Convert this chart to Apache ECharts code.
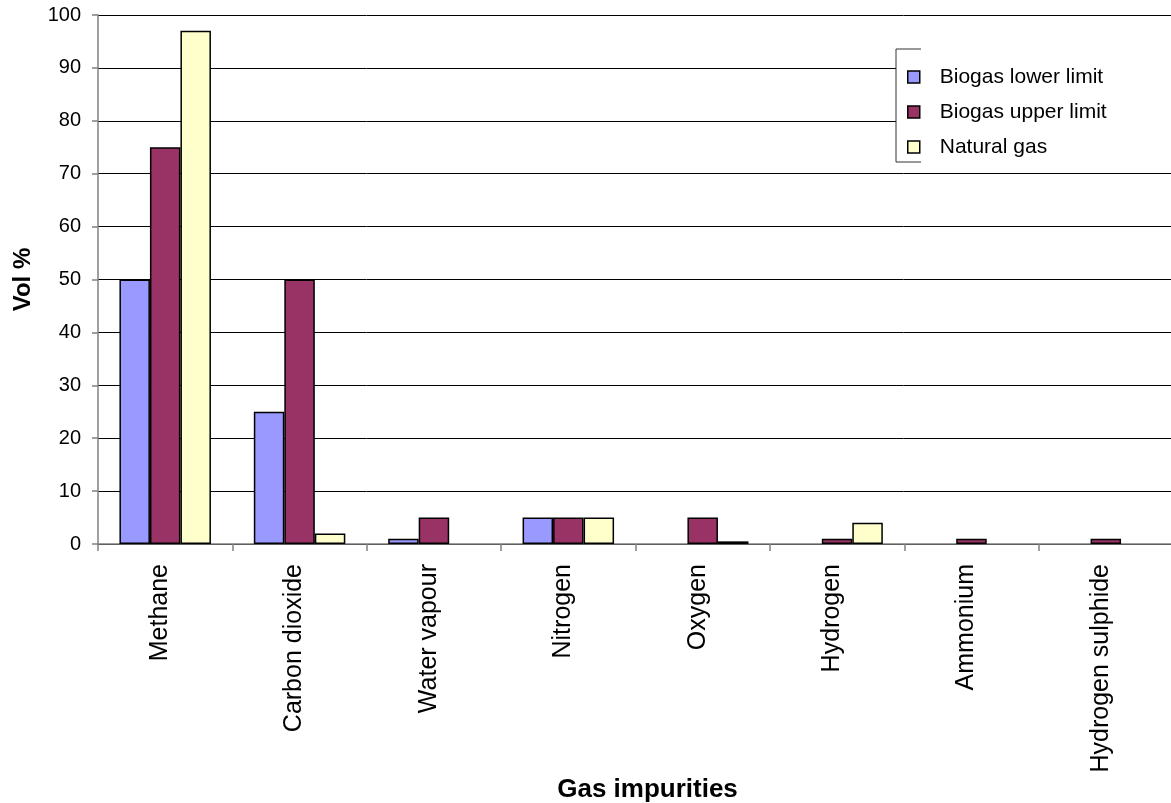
<!DOCTYPE html>
<html>
<head>
<meta charset="utf-8">
<script src="https://cdn.jsdelivr.net/npm/echarts@6/dist/echarts.min.js"></script>
<style>
  html, body { margin: 0; padding: 0; background: #fff; }
  #chart { width: 1171px; height: 803px; }
</style>
</head>
<body>
<div id="chart"></div>
<script>
const categories = ['Methane', 'Carbon dioxide', 'Water vapour', 'Nitrogen', 'Oxygen', 'Hydrogen', 'Ammonium', 'Hydrogen sulphide']
const biogasLower = [50, 25, 1, 5, 0, 0, 0, 0]
const biogasUpper = [75, 50, 5, 5, 5, 1, 1, 1]
const naturalGas = [97, 2, 0, 5, 0.5, 4, 0, 0]

const font = 'Liberation Sans, Arial, sans-serif'

const chart = echarts.init(document.getElementById('chart'))

// zero values are not drawn in the original, so leave them empty
function bar(name, data, color) {
  return {
    name,
    type: 'bar',
    data: data.map((v) => (v === 0 ? null : v)),
    barWidth: 30.5,
    barGap: '0%',
    itemStyle: { color, borderColor: '#000', borderWidth: 1.5 },
  }
}

chart.setOption({
  animation: false,
  textStyle: { fontFamily: font },
  grid: { left: 98, top: 15, width: 1075, bottom: 259, outerBoundsMode: 'none', containLabel: false },
  legend: {
    orient: 'vertical',
    left: 902,
    top: 59,
    z: 6,
    itemWidth: 12,
    itemHeight: 12,
    itemGap: 9,
    icon: 'rect',
    itemStyle: { borderColor: '#000', borderWidth: 1.5 },
    textStyle: { fontSize: 21, lineHeight: 24, color: '#000', padding: [2, 0, 0, 15] },
    data: ['Biogas lower limit', 'Biogas upper limit', 'Natural gas'],
  },
  graphic: [
    {
      type: 'rect',
      shape: { x: 896, y: 49, width: 275, height: 113 },
      style: { fill: '#fff' },
      z: 3,
    },
    {
      type: 'polyline',
      shape: { points: [[921, 49], [896, 49], [896, 162], [921, 162]] },
      style: { fill: null, stroke: '#333', lineWidth: 1 },
      z: 3,
    },
  ],
  xAxis: {
    type: 'category',
    data: categories,
    name: 'Gas impurities',
    nameLocation: 'middle',
    nameGap: 233,
    nameMoveOverlap: false,
    nameTextStyle: { fontSize: 26, fontWeight: 'bold', color: '#000', padding: [0, 0, 0, 24] },
    axisLine: { lineStyle: { color: '#808080', width: 1.5 } },
    axisTick: { show: true, length: 7, lineStyle: { color: '#808080', width: 1.5 } },
    axisLabel: { rotate: 90, fontSize: 25, color: '#000', margin: 20, interval: 0, verticalAlign: 'bottom', lineHeight: 10 },
  },
  yAxis: {
    type: 'value',
    min: 0,
    max: 100,
    interval: 10,
    name: 'Vol %',
    nameLocation: 'middle',
    nameGap: 63,
    nameMoveOverlap: false,
    nameTextStyle: { fontSize: 24, fontWeight: 'bold', color: '#000' },
    axisLine: { show: true, lineStyle: { color: '#808080', width: 1.5 } },
    axisTick: { show: true, length: 6, lineStyle: { color: '#808080', width: 1.5 } },
    axisLabel: { fontSize: 20, color: '#000', margin: 17 },
    splitLine: { lineStyle: { color: '#000', width: 1 } },
  },
  series: [
    bar('Biogas lower limit', biogasLower, '#9999FF'),
    bar('Biogas upper limit', biogasUpper, '#993366'),
    bar('Natural gas', naturalGas, '#FFFFCC'),
  ],
})
</script>
</body>
</html>
